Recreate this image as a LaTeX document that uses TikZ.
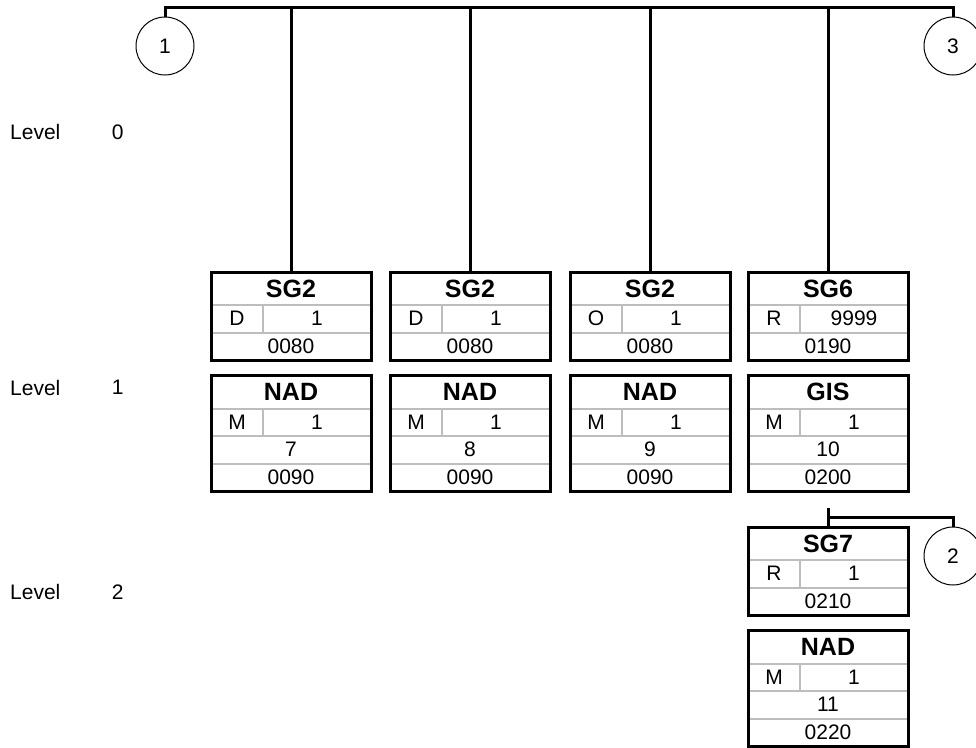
\documentclass[tikz,border=0pt]{standalone}
\usepackage{fontspec}
\setmainfont{Liberation Sans}
\usetikzlibrary{positioning}

\begin{document}
\begin{tikzpicture}[
    x=1pt, y=-1pt,
    font=\fontsize{21}{25}\selectfont,
    node distance=0pt,
    head/.style={draw=black!26, line width=2pt, outer sep=0pt, inner sep=0pt, minimum width=160pt, minimum height=33pt, font=\fontsize{25}{30}\selectfont\bfseries},
    stat/.style={draw=black!26, line width=2pt, outer sep=0pt, inner sep=0pt, minimum width=52pt, minimum height=27.5pt},
    rep/.style={draw=black!26, line width=2pt, outer sep=0pt, inner sep=0pt, minimum width=108pt, minimum height=27.5pt},
    cell/.style={draw=black!26, line width=2pt, outer sep=0pt, inner sep=0pt, minimum width=160pt, minimum height=27.5pt},
    frame/.style={draw, line width=3pt},
    link/.style={line width=3pt},
    conn/.style={draw, circle, line width=1pt, minimum size=58pt, inner sep=0pt},
    lvl/.style={anchor=west, inner sep=0pt}
]
\useasboundingbox (0,0) rectangle (976,747);
% level labels
\node[lvl] (lvl0) at (10,132) {Level};
\node[lvl, right=51pt of lvl0] (lvl0n) {0};
\node[lvl] (lvl1) at (10,387.5) {Level};
\node[lvl, right=51pt of lvl1] (lvl1n) {1};
\node[lvl] (lvl2) at (10,592) {Level};
\node[lvl, right=51pt of lvl2] (lvl2n) {2};
% connector circles
\node[conn] (c1) at (165,46) {1};
\node[conn] (c3) at (953,46) {3};
\node[conn] (c2) at (953,556) {2};
% SG2 groups with NAD
\foreach \cx/\st/\nr [count=\i] in {291/D/7, 470/D/8, 650/O/9} {
  \node[head] (sg\i) at (\cx,288.5) {SG2};
  \node[stat, anchor=north west] (sg\i-st) at (sg\i.south west) {\st};
  \node[rep, right=of sg\i-st] (sg\i-rp) {1};
  \node[cell, anchor=north west] (sg\i-pos) at (sg\i-st.south west) {0080};
  \draw[frame] (sg\i.north west) rectangle (sg\i-pos.south east);
  \node[head, below=15.5pt of sg\i-pos] (nad\i) {NAD};
  \node[stat, anchor=north west] (nad\i-st) at (nad\i.south west) {M};
  \node[rep, right=of nad\i-st] (nad\i-rp) {1};
  \node[cell, anchor=north west] (nad\i-nr) at (nad\i-st.south west) {\nr};
  \node[cell, below=of nad\i-nr] (nad\i-pos) {0090};
  \draw[frame] (nad\i.north west) rectangle (nad\i-pos.south east);
}
% SG6 group with GIS
\node[head] (sg6) at (828,288.5) {SG6};
\node[stat, anchor=north west] (sg6-st) at (sg6.south west) {R};
\node[rep, right=of sg6-st] (sg6-rp) {9999};
\node[cell, anchor=north west] (sg6-pos) at (sg6-st.south west) {0190};
\draw[frame] (sg6.north west) rectangle (sg6-pos.south east);
\node[head, below=15.5pt of sg6-pos] (gis) {GIS};
\node[stat, anchor=north west] (gis-st) at (gis.south west) {M};
\node[rep, right=of gis-st] (gis-rp) {1};
\node[cell, anchor=north west] (gis-nr) at (gis-st.south west) {10};
\node[cell, below=of gis-nr] (gis-pos) {0200};
\draw[frame] (gis.north west) rectangle (gis-pos.south east);
% SG7 group with NAD
\node[head] (sg7) at (828,543.5) {SG7};
\node[stat, anchor=north west] (sg7-st) at (sg7.south west) {R};
\node[rep, right=of sg7-st] (sg7-rp) {1};
\node[cell, anchor=north west] (sg7-pos) at (sg7-st.south west) {0210};
\draw[frame] (sg7.north west) rectangle (sg7-pos.south east);
\node[head, below=15.5pt of sg7-pos] (nad11) {NAD};
\node[stat, anchor=north west] (nad11-st) at (nad11.south west) {M};
\node[rep, right=of nad11-st] (nad11-rp) {1};
\node[cell, anchor=north west] (nad11-nr) at (nad11-st.south west) {11};
\node[cell, below=of nad11-nr] (nad11-pos) {0220};
\draw[frame] (nad11.north west) rectangle (nad11-pos.south east);
% connectors
\coordinate (top) at (165,7);
\draw[link] (c1.north) -- (c1.north |- top) -- (c3.north |- top) -- (c3.north);
\foreach \i in {1,2,3} \draw[link] (sg\i.north) -- (sg\i.north |- top);
\draw[link] (sg6.north) -- (sg6.north |- top);
\draw[link] (sg7.north) -- ([yshift=19pt]sg7.north);
\draw[link] ([yshift=10pt]sg7.north) -| (c2.north);
\end{tikzpicture}
\end{document}
